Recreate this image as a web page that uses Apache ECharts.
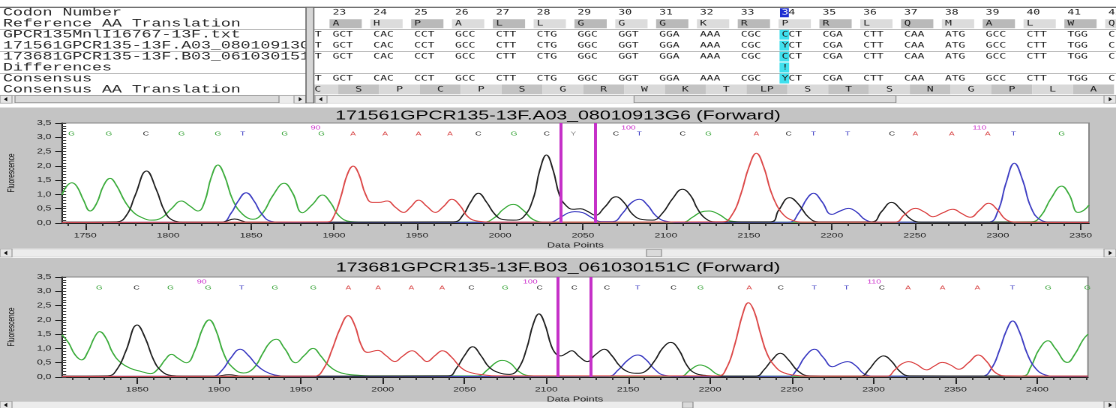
<!DOCTYPE html>
<html><head><meta charset="utf-8">
<script src="https://cdn.jsdelivr.net/npm/echarts@6/dist/echarts.min.js"></script>
<style>
html,body{margin:0;padding:0;background:#fff;overflow:hidden;width:1116px;height:408px}
#c{width:744px;height:408px;transform:scaleX(1.5);transform-origin:0 0}
</style></head><body><div id="c"></div>
<script>
// ---------- alignment table ----------
const rowNames = ['Codon Number','Reference AA Translation','GPCR135MnlI16767-13F.txt','171561GPCR135-13F.A03_08010913G6','173681GPCR135-13F.B03_061030151C','Differences','Consensus','Consensus AA Translation'];
const codonNumbers = [23,24,25,26,27,28,29,30,31,32,33,34,35,36,37,38,39,40,41,42];
const refAA = ['A','H','P','A','L','L','G','G','G','K','R','P','R','L','Q','M','A','L','W','Q'];
const seqGPCR135 = ['GCT','CAC','CCT','GCC','CTT','CTG','GGC','GGT','GGA','AAA','CGC','CCT','CGA','CTT','CAA','ATG','GCC','CTT','TGG','C'];
const seq171561 = ['GCT','CAC','CCT','GCC','CTT','CTG','GGC','GGT','GGA','AAA','CGC','YCT','CGA','CTT','CAA','ATG','GCC','CTT','TGG','C'];
const seq173681 = ['GCT','CAC','CCT','GCC','CTT','CTG','GGC','GGT','GGA','AAA','CGC','CCT','CGA','CTT','CAA','ATG','GCC','CTT','TGG','C'];
const differences = ['','','','','','','','','','','','!','','','','','','','',''];
const consensus = ['GCT','CAC','CCT','GCC','CTT','CTG','GGC','GGT','GGA','AAA','CGC','YCT','CGA','CTT','CAA','ATG','GCC','CTT','TGG','C'];
const consAAFrames = [22,23,24,25,26,27,28,29,30,31,32,33,34,35,36,37,38,39,40,41];
const consAA = ['C','S','P','C','P','S','G','R','W','K','T','LP','S','T','S','N','G','P','L','A'];
const leadBase = ['','','T','T','T','','T',''];
const diffCodon = 34;

// ---------- chromatogram 1 ----------
const ch1Ticks = [1750,1800,1850,1900,1950,2000,2050,2100,2150,2200,2250,2300,2350];
const ch1A = [[1736,0.02],[1896,0.04],[1900,0.25],[1904,0.9],[1908,1.7],[1911.5,1.99],[1915,1.7],[1919,1.0],[1923,0.72],[1927,0.72],[1932,0.77],[1937,0.55],[1942,0.37],[1946,0.55],[1951,0.8],[1956,0.58],[1961,0.37],[1966,0.58],[1971,0.83],[1976,0.6],[1981,0.2],[1987,0.06],[1995,0.03],[2134,0.04],[2140,0.3],[2145,0.98],[2150,1.95],[2154.5,2.44],[2159,1.95],[2163,1.15],[2167,0.6],[2171,0.28],[2176,0.1],[2183,0.03],[2238,0.03],[2244,0.3],[2250.5,0.51],[2256,0.38],[2261,0.22],[2267,0.36],[2273,0.48],[2278,0.34],[2283.5,0.2],[2289,0.45],[2294.5,0.69],[2300,0.45],[2305,0.12],[2312,0.03],[2355,0.02]];
const ch1C = [[1736,0.03],[1769,0.04],[1775,0.28],[1780,0.95],[1787,1.82],[1793,1.15],[1798,0.4],[1803,0.09],[1810,0.03],[1832,0.03],[1840,0.14],[1848,0.03],[1972,0.04],[1978,0.3],[1982,0.7],[1987,1.04],[1992,0.72],[1997,0.3],[2002,0.12],[2008,0.1],[2014,0.2],[2020,0.85],[2024,1.85],[2028,2.38],[2032,1.85],[2036,0.95],[2040,0.6],[2044,0.48],[2048.5,0.5],[2053,0.4],[2057.5,0.27],[2063,0.55],[2070,0.92],[2075,0.7],[2080,0.3],[2086,0.12],[2092,0.1],[2098,0.35],[2104,0.85],[2110,1.18],[2115,0.95],[2119,0.5],[2124,0.15],[2130,0.04],[2163,0.04],[2168,0.45],[2174.6,0.89],[2180,0.65],[2186,0.2],[2192,0.04],[2224,0.04],[2230,0.4],[2236,0.72],[2242,0.45],[2248,0.12],[2254,0.03],[2355,0.03]];
const ch1G = [[1736,0.98],[1739,1.3],[1742,1.41],[1745,1.28],[1749,0.8],[1753,0.42],[1757,0.7],[1761,1.3],[1765,1.56],[1769,1.3],[1774,0.75],[1779,0.38],[1785,0.17],[1790,0.1],[1796,0.18],[1802,0.5],[1808,0.77],[1813,0.6],[1818,0.42],[1822,0.75],[1826,1.6],[1830,2.03],[1834,1.65],[1839,0.8],[1845,0.3],[1851,0.13],[1857,0.35],[1863,0.95],[1870,1.39],[1875,1.05],[1881,0.36],[1887,0.65],[1893,0.98],[1898,0.7],[1903,0.25],[1910,0.05],[1920,0.03],[1990,0.03],[1997,0.2],[2002,0.48],[2008,0.65],[2014,0.45],[2020,0.12],[2028,0.03],[2110,0.03],[2116,0.2],[2121,0.38],[2126,0.42],[2132,0.3],[2139,0.07],[2148,0.03],[2320,0.04],[2326,0.25],[2332,0.85],[2338.6,1.29],[2343,1.0],[2348.5,0.37],[2352,0.45],[2355,0.63]];
const ch1T = [[1736,0.02],[1832,0.03],[1838,0.35],[1842,0.75],[1847,1.06],[1852,0.75],[1856,0.35],[1862,0.06],[1870,0.02],[2030,0.03],[2036,0.18],[2041,0.35],[2045,0.40],[2050,0.36],[2055,0.2],[2061,0.05],[2068,0.05],[2074,0.35],[2079,0.7],[2084,0.83],[2089,0.62],[2094,0.25],[2100,0.06],[2108,0.02],[2174,0.03],[2180,0.35],[2185,0.85],[2189,1.04],[2194,0.75],[2200,0.3],[2205,0.42],[2210,0.51],[2215,0.38],[2220,0.12],[2226,0.03],[2294,0.03],[2300,0.4],[2305,1.4],[2310,2.09],[2315,1.5],[2320,0.55],[2326,0.1],[2333,0.03],[2355,0.02]];
const calls1Pos = [1741.8,1764.3,1786.6,1808.1,1830.0,1845.0,1870.3,1892.4,1911.5,1930.8,1950.9,1969.9,1987.0,2008.5,2028.2,2044.2,2069.9,2084.0,2110.1,2125.6,2154.5,2174.0,2189.0,2209.5,2236.2,2250.3,2272.3,2294.0,2309.5,2338.6];
const calls1Base = ['G','G','C','G','G','T','G','G','A','A','A','A','C','G','C','Y','C','T','C','G','A','C','T','T','C','A','A','A','T','G'];
const nums1Pos = [1888.8,2077.4,2289.0];
const nums1 = ['90','100','110'];
const cursors1 = [2036.6,2057.1];

// ---------- chromatogram 2 ----------
const ch2Ticks = [1850,1900,1950,2000,2050,2100,2150,2200,2250,2300,2350,2400];
const ch2A = [[1804,0.02],[1958,0.03],[1964,0.3],[1969,0.95],[1974,1.7],[1979,2.15],[1983,1.8],[1987,1.1],[1991,0.86],[1997,0.93],[2002,0.75],[2007.5,0.54],[2012,0.72],[2018,0.92],[2023,0.72],[2027,0.54],[2032,0.75],[2036.5,0.92],[2042,0.7],[2048,0.32],[2054,0.15],[2061,0.08],[2070,0.04],[2205,0.04],[2210,0.3],[2215,1.1],[2220,2.2],[2223.5,2.6],[2227,2.3],[2231,1.5],[2235,0.8],[2240,0.36],[2245,0.15],[2252,0.06],[2260,0.03],[2308,0.03],[2313,0.25],[2317,0.45],[2321.5,0.54],[2326,0.45],[2332.5,0.25],[2337,0.38],[2342,0.51],[2347,0.42],[2352,0.27],[2358,0.5],[2364,0.77],[2369,0.55],[2375,0.13],[2382,0.04],[2431,0.03]];
const ch2C = [[1804,0.03],[1832,0.04],[1838,0.3],[1843,0.9],[1850,1.82],[1855,1.35],[1860,0.6],[1865,0.2],[1871,0.05],[1878,0.03],[1898,0.03],[1906,0.08],[1914,0.03],[2040,0.04],[2045,0.3],[2050,0.75],[2055,1.06],[2060,0.75],[2065,0.35],[2071,0.15],[2077.5,0.09],[2083,0.3],[2088,1.0],[2092,1.85],[2095.5,2.21],[2099,1.87],[2103,1.1],[2106,0.8],[2109,0.74],[2112,0.82],[2115.5,0.92],[2120,0.72],[2125,0.54],[2130,0.78],[2135.5,0.97],[2140,0.75],[2145,0.38],[2150,0.18],[2155,0.13],[2160,0.18],[2166,0.55],[2171,1.0],[2176,1.21],[2181,0.95],[2186,0.4],[2191,0.13],[2198,0.05],[2205,0.03],[2228,0.03],[2233,0.25],[2238,0.6],[2243,0.83],[2248,0.6],[2254,0.2],[2261,0.04],[2292,0.03],[2297,0.25],[2302,0.6],[2306,0.74],[2311,0.55],[2316,0.2],[2322,0.04],[2431,0.03]];
const ch2G = [[1804,1.48],[1808,1.2],[1812,0.78],[1816,0.6],[1820,0.9],[1824,1.4],[1827,1.59],[1831,1.35],[1835,0.85],[1840,0.5],[1846,0.3],[1852,0.2],[1858,0.12],[1863,0.3],[1867,0.6],[1871,0.79],[1875,0.65],[1880,0.5],[1885,0.9],[1890,1.7],[1894,2.0],[1898,1.65],[1903,0.8],[1908,0.35],[1915,0.14],[1921,0.3],[1927,0.85],[1931,1.2],[1935,1.32],[1940,1.0],[1947,0.5],[1952,0.75],[1957.5,1.0],[1962,0.75],[1967,0.4],[1972,0.2],[1978,0.1],[1985,0.06],[1992,0.04],[2058,0.04],[2064,0.25],[2069,0.5],[2073,0.58],[2078,0.48],[2083,0.2],[2089,0.05],[2096,0.03],[2182,0.03],[2188,0.25],[2194,0.42],[2199,0.32],[2205,0.08],[2212,0.03],[2391,0.04],[2396,0.35],[2401,0.95],[2406.7,1.27],[2411,1.0],[2418.5,0.51],[2423,0.8],[2428,1.3],[2431,1.5]];
const ch2T = [[1804,0.02],[1896,0.03],[1902,0.25],[1907,0.65],[1913,0.97],[1918,0.75],[1923,0.42],[1928,0.2],[1934,0.07],[1942,0.02],[2138,0.03],[2144,0.25],[2150,0.6],[2156,0.77],[2161,0.6],[2166,0.28],[2172,0.06],[2180,0.02],[2248,0.03],[2253,0.25],[2258,0.7],[2264,0.97],[2269,0.7],[2275,0.36],[2280,0.48],[2284,0.54],[2289,0.4],[2294,0.12],[2300,0.03],[2366,0.03],[2372,0.3],[2377,0.95],[2381,1.6],[2385,1.96],[2389,1.6],[2394,0.8],[2399,0.3],[2405,0.07],[2412,0.02],[2431,0.02]];
const calls2Pos = [1826.8,1849.6,1870.4,1893.4,1913.8,1934.2,1957.6,1979.0,1997.2,2017.5,2036.3,2054.2,2074.9,2095.9,2117.1,2137.1,2155.8,2177.8,2194.3,2224.0,2243.3,2263.7,2283.4,2305.0,2321.1,2342.1,2363.5,2384.9,2406.7,2430.7];
const calls2Base = ['G','C','G','G','T','G','G','A','A','A','A','C','G','C','C','C','T','C','G','A','C','T','T','C','A','A','A','T','G','G'];
const nums2Pos = [1889.4,2090.2,2300.3];
const nums2 = ['90','100','110'];
const cursors2 = [2107.2,2127.3];

// ---------- styling ----------
const SANS = 'Liberation Sans';
const MONO = 'DejaVu Sans Mono';
const baseColor = {A:'#d84040', C:'#1e1e1e', G:'#35a335', T:'#3535c2', Y:'#8e8e8e'};
const traceColor = {A:'#dd4a4a', C:'#222222', G:'#3fae3f', T:'#4040c4'};

const chart = echarts.init(document.getElementById('c'), null, {renderer:'canvas', devicePixelRatio:2});

// table items
const tableItems = [];
codonNumbers.forEach((n,i)=>{
  tableItems.push({value:[n,0], text:String(n), kind:'num'});
  tableItems.push({value:[n,1], text:refAA[i], kind:'ref'});
  tableItems.push({value:[n,2], text:seqGPCR135[i], kind:'seq'});
  tableItems.push({value:[n,3], text:seq171561[i], kind:'seq'});
  tableItems.push({value:[n,4], text:seq173681[i], kind:'seq'});
  tableItems.push({value:[n,5], text:differences[i], kind:'diff'});
  tableItems.push({value:[n,6], text:consensus[i], kind:'seq'});
});
consAAFrames.forEach((n,i)=>tableItems.push({value:[n,7], text:consAA[i], kind:'caa', idx:i}));
leadBase.forEach((b,r)=>{ if(b) tableItems.push({value:[codonNumbers[0]-1, r], text:b, kind:'lead'}); });

function txt(x,y,text,fill,size,family,align){
  return {type:'text', x:x, y:y, style:{text:text, fill:fill, fontSize:size, fontFamily:family, align:align||'left', verticalAlign:'middle'}};
}

function renderTable(params, api){
  const it = tableItems[params.dataIndex];
  const n = api.value(0), r = api.value(1);
  const rowH = api.size([0,1])[1];
  const cw = api.size([1,0])[0];
  const p = api.coord([n, r]);
  const top = p[1] - rowH/2;
  const ch = [];
  const fs = 7.5;
  if (it.kind === 'num') {
    if (n === diffCodon) {
      ch.push({type:'rect', shape:{x:p[0]-1.1, y:top+1, width:5.9, height:rowH-2}, style:{fill:'#1f2fd2'}});
      ch.push({type:'text', x:p[0], y:p[1], style:{text:'{h|'+it.text[0]+'}'+it.text.slice(1), fill:'#222', fontSize:fs, fontFamily:MONO, verticalAlign:'middle', rich:{h:{fill:'#fff', color:'#fff', fontSize:fs, fontFamily:MONO}}}});
    } else ch.push(txt(p[0], p[1], it.text, '#222', fs, MONO));
  } else if (it.kind === 'ref') {
    ch.push({type:'rect', shape:{x:p[0]-cw*0.075, y:top+1, width:cw*0.79, height:rowH-2}, style:{fill: n%2 ? '#b9b9b9' : '#dcdcdc'}});
    ch.push(txt(p[0], p[1], it.text, '#222', fs, MONO));
  } else if (it.kind === 'seq' || it.kind === 'diff') {
    if (n === diffCodon) ch.push({type:'rect', shape:{x:p[0]-1.4, y:top+0.5, width:6.4, height:rowH-1}, style:{fill:'#3fe0ee'}});
    if (it.text) ch.push(txt(p[0], p[1], it.text, '#222', fs, MONO));
  } else if (it.kind === 'caa') {
    const q = api.coord([n + 0.64, r]);
    ch.push({type:'rect', shape:{x:q[0]-cw/2, y:top+0.6, width:cw, height:rowH-1.2}, style:{fill: it.idx%2 ? '#c3c3c3' : '#d9d9d9'}});
    ch.push(txt(q[0], q[1], it.text, '#222', fs, MONO, 'center'));
  } else if (it.kind === 'lead') {
    const q = api.coord([n + 0.73, r]);
    ch.push(txt(q[0], q[1], it.text, '#222', fs, MONO, 'right'));
  }
  return {type:'group', children:ch};
}

function renderLabels(params, api){
  const p = api.coord([0, api.value(1)]);
  return txt(p[0]+2, p[1], rowNames[params.dataIndex], '#2a2a2a', 11, 'Liberation Mono');
}

function callRenderer(bases, offset, colorFn, size){
  return function(params, api){
    const p = api.coord([api.value(0), 3.5]);
    const b = bases[params.dataIndex];
    return {type:'text', x:p[0], y:p[1]+offset, style:{text:b, fill:colorFn(b), fontSize:size, fontFamily:SANS, align:'center', verticalAlign:'middle'}};
  };
}

function minorTicks(a, b){ const out=[]; for(let v=a; v<=b; v+=10) out.push(v); return out; }

function chromAxes(gi, min, max, ticks){
  const xMain = {type:'value', gridIndex:gi, min:min, max:max, position:'bottom',
    axisLine:{show:true, onZero:false, lineStyle:{color:'#222', width:1}},
    axisTick:{show:true, customValues:ticks, length:7, lineStyle:{color:'#222'}},
    axisLabel:{show:true, customValues:ticks, fontSize:6.8, fontFamily:SANS, color:'#222', margin:9, formatter:v=>String(v)},
    splitLine:{show:false}, name:'Data Points', nameLocation:'middle', nameGap:19,
    nameTextStyle:{fontSize:7.3, fontFamily:SANS, color:'#222'}};
  const xMinor = {type:'value', gridIndex:gi, min:min, max:max, position:'bottom',
    axisLine:{show:false}, axisLabel:{show:false}, splitLine:{show:false},
    axisTick:{show:true, customValues:minorTicks(Math.ceil(min/10)*10, max), length:3, lineStyle:{color:'#333'}}};
  const yMain = {type:'value', gridIndex:gi, min:0, max:3.5, interval:0.5, position:'left',
    axisLine:{show:true, lineStyle:{color:'#222', width:1}},
    axisTick:{show:true, length:4.5, lineStyle:{color:'#222'}},
    axisLabel:{fontSize:7, fontFamily:SANS, color:'#222', margin:7, formatter:v=>v.toFixed(1).replace('.', ',')},
    splitLine:{show:false}, name:'Fluorescence', nameLocation:'middle', nameGap:30, nameRotate:90,
    nameTextStyle:{fontSize:6.5, fontFamily:SANS, color:'#111'}};
  const yMinor = {type:'value', gridIndex:gi, min:0, max:3.5, interval:0.1, position:'left',
    axisLine:{show:false}, axisLabel:{show:false}, splitLine:{show:false},
    axisTick:{show:true, inside:true, length:2.8, lineStyle:{color:'#444'}}};
  return {x:[xMain, xMinor], y:[yMain, yMinor]};
}

function chromSeries(xi, yi, A, C, G, T, callsPos, callsBase, numsPos, nums, cursors){
  const mk = (name, data) => ({type:'line', name:name, xAxisIndex:xi, yAxisIndex:yi, data:data, showSymbol:false, symbol:'none',
    smooth:0.45, lineStyle:{color:traceColor[name], width:1}, itemStyle:{color:traceColor[name]}, silent:true, clip:true, z:3});
  const s = [mk('G',G), mk('T',T), mk('C',C), mk('A',A)];
  s[3].markLine = {silent:true, symbol:['none','none'], label:{show:false}, animation:false,
    lineStyle:{color:'#c531c8', width:2, type:'solid'}, data:cursors.map(v=>({xAxis:v}))};
  s.push({type:'custom', xAxisIndex:xi, yAxisIndex:yi, data:callsPos.map(v=>[v,3.5]), renderItem:callRenderer(callsBase, 11, b=>baseColor[b], 5.6), silent:true, z:4});
  s.push({type:'custom', xAxisIndex:xi, yAxisIndex:yi, data:numsPos.map(v=>[v,3.5]), renderItem:callRenderer(nums, 5, ()=>'#cc2fcc', 5.8), silent:true, z:4});
  return s;
}

const a1 = chromAxes(2, 1736, 2355, ch1Ticks);
const a2 = chromAxes(3, 1804, 2431, ch2Ticks);

function scrollbar(x0, x1, y, h, t0, t1){
  const els = [];
  const bw = 8, cy = y + h/2;
  els.push({type:'rect', z:-5, shape:{x:x0, y:y, width:x1-x0, height:h}, style:{fill:'#ececec', stroke:'#c8c8c8', lineWidth:0.5}});
  els.push({type:'rect', z:-4, shape:{x:x0, y:y, width:bw, height:h}, style:{fill:'#e6e6e6', stroke:'#9a9a9a', lineWidth:0.6}});
  els.push({type:'rect', z:-4, shape:{x:x1-bw, y:y, width:bw, height:h}, style:{fill:'#e6e6e6', stroke:'#9a9a9a', lineWidth:0.6}});
  els.push({type:'polygon', z:-3, shape:{points:[[x0+2.6,cy],[x0+4.8,cy-2.2],[x0+4.8,cy+2.2]]}, style:{fill:'#111'}});
  els.push({type:'polygon', z:-3, shape:{points:[[x1-2.6,cy],[x1-4.8,cy-2.2],[x1-4.8,cy+2.2]]}, style:{fill:'#111'}});
  if (t1 > t0) els.push({type:'rect', z:-3, shape:{x:t0, y:y+0.5, width:t1-t0, height:h-1}, style:{fill:'#dadada', stroke:'#8a8a8a', lineWidth:0.6}});
  return els;
}

const graphics = [].concat(
  [{type:'rect', z:-10, shape:{x:0, y:107.5, width:744, height:141}, style:{fill:'#c4c4c4'}},
   {type:'rect', z:-10, shape:{x:0, y:258, width:744, height:143.5}, style:{fill:'#c4c4c4'}},
   {type:'line', z:5, shape:{x1:0, y1:7.3, x2:744, y2:7.3}, style:{stroke:'#5a5a5a', lineWidth:1}},
   {type:'rect', z:5, shape:{x:204, y:7.3, width:5.2, height:95.7}, style:{fill:'#d6d6d6', stroke:'#6a6a6a', lineWidth:0.8}}],
  scrollbar(0, 204, 95.2, 8, 10, 186),
  scrollbar(210, 744, 95.2, 8, 422.7, 597.3),
  scrollbar(0, 744, 249, 8, 431, 441),
  scrollbar(0, 744, 401.5, 7, 455, 462)
);

const option = {
  animation:false,
  backgroundColor:'#ffffff',
  title:[
    {text:'171561GPCR135-13F.A03_08010913G6 (Forward)', left:'center', top:109.5, padding:0, textStyle:{fontSize:13, fontWeight:'normal', fontFamily:SANS, color:'#050505'}},
    {text:'173681GPCR135-13F.B03_061030151C (Forward)', left:'center', top:261.5, padding:0, textStyle:{fontSize:13, fontWeight:'normal', fontFamily:SANS, color:'#050505'}}
  ],
  grid:[
    {left:0, top:7.3, width:204, height:87.6, show:true, backgroundColor:'#fff', borderWidth:0, outerBoundsMode:'none', containLabel:false},
    {left:209.2, top:7.3, width:534.8, height:87.6, show:true, backgroundColor:'#fff', borderWidth:0, outerBoundsMode:'none', containLabel:false},
    {left:41.3, top:123, width:684.7, height:100, show:true, backgroundColor:'#fff', borderColor:'#8a8a8a', borderWidth:1, outerBoundsMode:'none', containLabel:false},
    {left:41.3, top:277, width:684, height:100, show:true, backgroundColor:'#fff', borderColor:'#8a8a8a', borderWidth:1, outerBoundsMode:'none', containLabel:false}
  ],
  xAxis:[
    {type:'value', gridIndex:0, min:0, max:1, show:false},
    {type:'value', gridIndex:1, min:22.54, max:42.19, show:false}
  ].concat(a1.x, a2.x),
  yAxis:[
    {type:'category', gridIndex:0, data:rowNames, inverse:true, axisLine:{show:false}, axisTick:{show:false}, axisLabel:{show:false}, splitLine:{show:true, lineStyle:{color:'#a9a9a9', width:0.8}}},
    {type:'category', gridIndex:1, data:rowNames, inverse:true, axisLine:{show:false}, axisTick:{show:false}, axisLabel:{show:false}, splitLine:{show:true, lineStyle:{color:'#a9a9a9', width:0.8}}}
  ].concat(a1.y, a2.y),
  graphic:{elements:graphics},
  series:[
    {type:'custom', xAxisIndex:0, yAxisIndex:0, data:rowNames.map((s,i)=>[0,i]), renderItem:renderLabels, clip:true, silent:true},
    {type:'custom', xAxisIndex:1, yAxisIndex:1, data:tableItems.map(d=>d.value), renderItem:renderTable, clip:true, silent:true}
  ].concat(
    chromSeries(2, 2, ch1A, ch1C, ch1G, ch1T, calls1Pos, calls1Base, nums1Pos, nums1, cursors1),
    chromSeries(4, 4, ch2A, ch2C, ch2G, ch2T, calls2Pos, calls2Base, nums2Pos, nums2, cursors2)
  )
};
chart.setOption(option);
</script></body></html>
